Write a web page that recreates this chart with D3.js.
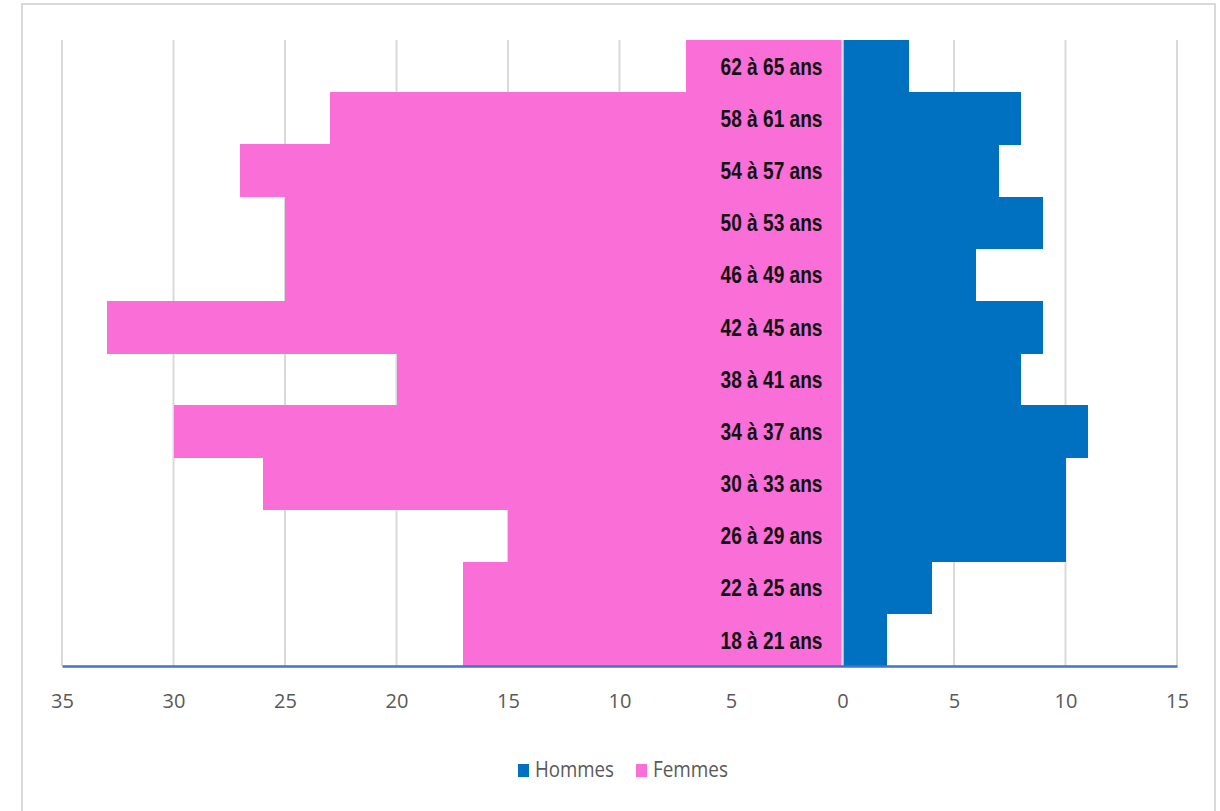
<!DOCTYPE html>
<html><head><meta charset="utf-8">
<script src="https://cdn.jsdelivr.net/npm/d3@7"></script>
<style>
html,body{margin:0;padding:0;background:#fff;}
svg{display:block;}
</style></head>
<body>
<svg id="chart" width="1220" height="811"></svg>
<script>
const categories = ["62 à 65 ans","58 à 61 ans","54 à 57 ans","50 à 53 ans","46 à 49 ans","42 à 45 ans","38 à 41 ans","34 à 37 ans","30 à 33 ans","26 à 29 ans","22 à 25 ans","18 à 21 ans"];
const hommes = [3,8,7,9,6,9,8,11,10,10,4,2];
const femmes = [7,23,27,25,25,33,20,30,26,15,17,17];
const tickValues = [-35,-30,-25,-20,-15,-10,-5,0,5,10,15];
const seriesNames = ["Hommes","Femmes"];
const colors = {Hommes:"#0070c0", Femmes:"#fa6ed7"};

const svg = d3.select("#chart");
// outer border
svg.append("rect").attr("x",22).attr("y",4).attr("width",1193).attr("height",830)
  .attr("fill","#fff").attr("stroke","#d9d9d9").attr("stroke-width",2);

const x = d3.scaleLinear().domain([-35,15]).range([62,1177]);
const y = d3.scaleBand().domain(categories).range([40,666]).padding(0);

// gridlines
svg.append("g").selectAll("line").data(tickValues).join("line")
  .attr("x1",d=>x(d)).attr("x2",d=>x(d)).attr("y1",40).attr("y2",666)
  .attr("stroke","#d9d9d9").attr("stroke-width",2);

// bars
svg.append("g").attr("shape-rendering","crispEdges").selectAll("rect").data(categories).join("rect")
  .attr("x",(d,i)=>x(-femmes[i])).attr("width",(d,i)=>x(0)-x(-femmes[i]))
  .attr("y",d=>y(d)).attr("height",y.bandwidth()+0.6).attr("fill",colors.Femmes);
svg.append("g").attr("shape-rendering","crispEdges").selectAll("rect").data(categories).join("rect")
  .attr("x",x(0)).attr("width",(d,i)=>x(hommes[i])-x(0))
  .attr("y",d=>y(d)).attr("height",y.bandwidth()+0.6).attr("fill",colors.Hommes);

// zero line
svg.append("line").attr("x1",x(0)).attr("x2",x(0)).attr("y1",40).attr("y2",666)
  .attr("stroke","#d9d9d9").attr("stroke-width",2.5);

// category labels
svg.append("g").selectAll("text").data(categories).join("text")
  .attr("x",x(0)-20).attr("y",d=>y(d)+y.bandwidth()/2)
  .attr("dy","0.36em").attr("text-anchor","end")
  .attr("font-family","'Liberation Sans',Arial,sans-serif")
  .attr("font-weight","bold").attr("font-size",24).attr("fill","#111")
  .attr("textLength",102).attr("lengthAdjust","spacingAndGlyphs")
  .text(d=>d);

// x axis
const xAxis = d3.axisBottom(x).tickValues(tickValues).tickFormat(d=>Math.abs(d)).tickSize(0).tickPadding(28);
const ag = svg.append("g").attr("transform","translate(0,666)").call(xAxis);
ag.select(".domain").attr("stroke","#4472c4").attr("stroke-width",2.5);
ag.selectAll("text").attr("font-family","'Open Sans',sans-serif")
  .attr("font-size",20).attr("fill","#595959");

// legend
const legend = svg.append("g").attr("transform","translate(518,770)");
const lx = [0,118];
const lw = [79,75];
seriesNames.forEach((s,i)=>{
  const g = legend.append("g").attr("transform",`translate(${lx[i]},0)`);
  g.append("rect").attr("x",0).attr("y",-6).attr("width",11).attr("height",13).attr("fill",colors[s]);
  g.append("text").attr("x",17).attr("y",0).attr("dy","0.35em")
    .attr("font-family","'Open Sans',sans-serif")
    .attr("font-size",21).attr("fill","#595959")
    .attr("textLength",lw[i]).attr("lengthAdjust","spacingAndGlyphs").text(s);
});
</script>
</body></html>
